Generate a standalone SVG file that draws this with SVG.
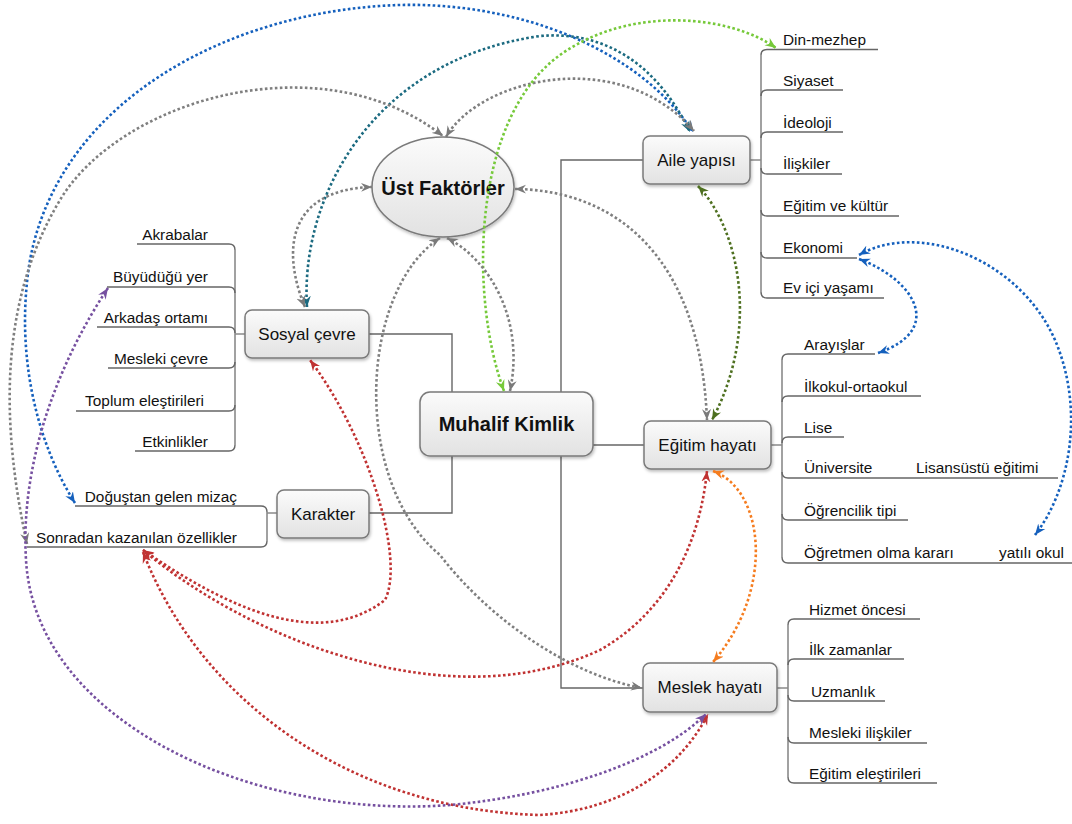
<svg xmlns="http://www.w3.org/2000/svg" width="1072" height="824" viewBox="0 0 1072 824">
<defs>
<linearGradient id="g" x1="0" y1="0" x2="0" y2="1"><stop offset="0" stop-color="#fbfbfb"/><stop offset="1" stop-color="#e2e2e2"/></linearGradient>
<filter id="sh" x="-10%" y="-10%" width="130%" height="140%"><feDropShadow dx="1" dy="2" stdDeviation="1.5" flood-color="#000" flood-opacity="0.25"/></filter>
<marker id="m-gray" viewBox="0 0 12 10" refX="11" refY="5" markerWidth="12" markerHeight="10" markerUnits="userSpaceOnUse" orient="auto-start-reverse"><path d="M0,0.5 L11,5 L0,9.5 L3.5,5 Z" fill="#7a7a7a"/></marker>
<marker id="m-blue" viewBox="0 0 12 10" refX="11" refY="5" markerWidth="12" markerHeight="10" markerUnits="userSpaceOnUse" orient="auto-start-reverse"><path d="M0,0.5 L11,5 L0,9.5 L3.5,5 Z" fill="#1560bd"/></marker>
<marker id="m-teal" viewBox="0 0 12 10" refX="11" refY="5" markerWidth="12" markerHeight="10" markerUnits="userSpaceOnUse" orient="auto-start-reverse"><path d="M0,0.5 L11,5 L0,9.5 L3.5,5 Z" fill="#1b6a80"/></marker>
<marker id="m-green" viewBox="0 0 12 10" refX="11" refY="5" markerWidth="12" markerHeight="10" markerUnits="userSpaceOnUse" orient="auto-start-reverse"><path d="M0,0.5 L11,5 L0,9.5 L3.5,5 Z" fill="#76c93a"/></marker>
<marker id="m-olive" viewBox="0 0 12 10" refX="11" refY="5" markerWidth="12" markerHeight="10" markerUnits="userSpaceOnUse" orient="auto-start-reverse"><path d="M0,0.5 L11,5 L0,9.5 L3.5,5 Z" fill="#4e7020"/></marker>
<marker id="m-red" viewBox="0 0 12 10" refX="11" refY="5" markerWidth="12" markerHeight="10" markerUnits="userSpaceOnUse" orient="auto-start-reverse"><path d="M0,0.5 L11,5 L0,9.5 L3.5,5 Z" fill="#c03232"/></marker>
<marker id="m-purple" viewBox="0 0 12 10" refX="11" refY="5" markerWidth="12" markerHeight="10" markerUnits="userSpaceOnUse" orient="auto-start-reverse"><path d="M0,0.5 L11,5 L0,9.5 L3.5,5 Z" fill="#7650a0"/></marker>
<marker id="m-orange" viewBox="0 0 12 10" refX="11" refY="5" markerWidth="12" markerHeight="10" markerUnits="userSpaceOnUse" orient="auto-start-reverse"><path d="M0,0.5 L11,5 L0,9.5 L3.5,5 Z" fill="#f57c1f"/></marker>
</defs>
<style>
text{font-family:"Liberation Sans",Arial,sans-serif;fill:#111}
.leaf{font-size:15.4px}
.lbl{font-size:17px;text-anchor:middle}
.big{font-size:20px;font-weight:bold;text-anchor:middle}
.end{text-anchor:end}
.box{fill:url(#g);stroke:#7a7a7a;stroke-width:1.5;filter:url(#sh)}
.tree{fill:none;stroke:#666;stroke-width:1.4}
.br{fill:none;stroke:#8a8a8a;stroke-width:1.6}
.rel{fill:none;stroke-width:2.6;stroke-dasharray:2.6 2.4}
.gray{stroke:#7f7f7f;marker-start:url(#m-gray);marker-end:url(#m-gray)}
.blue{stroke:#1560bd;marker-start:url(#m-blue);marker-end:url(#m-blue)}
.teal{stroke:#1b6a80;marker-start:url(#m-teal);marker-end:url(#m-teal)}
.green{stroke:#76c93a;marker-start:url(#m-green);marker-end:url(#m-green)}
.olive{stroke:#4e7020;marker-start:url(#m-olive);marker-end:url(#m-olive)}
.red{stroke:#c03232;marker-start:url(#m-red);marker-end:url(#m-red)}
.purple{stroke:#7650a0;marker-start:url(#m-purple);marker-end:url(#m-purple)}
.orange{stroke:#f57c1f;marker-start:url(#m-orange);marker-end:url(#m-orange)}
</style>
<rect width="1072" height="824" fill="#fff"/>

<g id="tree-lines">
<path class="tree" d="M369,334 H452 V513 H369"/>
<path class="tree" d="M643,160 H561 V688 H643"/>
<path class="tree" d="M593,445 H644"/>
<!-- Aile yapısı bracket -->
<path class="br" d="M750,160 H761 M761,55 V292"/>
<path class="tree" d="M761,55 Q761,49.5 767,49.5 H878 M761,96 Q761,90 767,90 H843 M761,138 Q761,132 767,132 H843 M761,168 Q761,174 767,174 H842 M761,210 Q761,216 767,216 H899 M761,252 Q761,258 767,258 H857 M761,292 Q761,298 767,298 H884"/>
<!-- Eğitim hayatı bracket -->
<path class="br" d="M771,445 H782 M782,360 V557"/>
<path class="tree" d="M782,360 Q782,354 788,354 H875 M782,402 Q782,396 788,396 H921 M782,443 Q782,437 788,437 H844 M782,472 Q782,478 788,478 H1058 M782,514 Q782,520 788,520 H908 M782,557 Q782,563 788,563 H1072"/>
<!-- Meslek hayatı bracket -->
<path class="br" d="M777,688 H788 M788,625 V777"/>
<path class="tree" d="M788,625 Q788,619 794,619 H920 M788,665 Q788,659 794,659 H904 M788,695 Q788,701 794,701 H885 M788,737 Q788,743 794,743 H927 M788,777 Q788,783 794,783 H937"/>
<!-- Sosyal çevre bracket -->
<path class="br" d="M245,334 H235 M235,250 V445"/>
<path class="tree" d="M235,250 Q235,244 229,244 H137 M235,293 Q235,287 229,287 H107 M235,333 Q235,327 229,327 H97 M235,362 Q235,368 229,368 H108 M235,405 Q235,411 229,411 H76 M235,445 Q235,451 229,451 H135"/>
<!-- Karakter bracket -->
<path class="br" d="M277,513 H267 M267,512 V541"/>
<path class="tree" d="M267,512 Q267,506 261,506 H75 M267,541 Q267,547 261,547 H27"/>
</g>

<g id="node-ust"><ellipse class="box" cx="443" cy="187" rx="71" ry="50"/><text class="big" x="443" y="195">Üst Faktörler</text></g>
<g id="node-muhalif"><rect class="box" x="420" y="392" width="173" height="64" rx="10"/><text class="big" x="506.5" y="431">Muhalif Kimlik</text></g>
<g id="node-aile"><rect class="box" x="643" y="136" width="107" height="48" rx="7"/><text class="lbl" x="696.5" y="166">Aile yapısı</text></g>
<g id="node-egitim"><rect class="box" x="644" y="421" width="127" height="48" rx="7"/><text class="lbl" x="707.5" y="451">Eğitim hayatı</text></g>
<g id="node-meslek"><rect class="box" x="643" y="663" width="134" height="49" rx="7"/><text class="lbl" x="710" y="693">Meslek hayatı</text></g>
<g id="node-sosyal"><rect class="box" x="245" y="310" width="124" height="48" rx="7"/><text class="lbl" x="307" y="340">Sosyal çevre</text></g>
<g id="node-karakter"><rect class="box" x="277" y="490" width="92" height="48" rx="7"/><text class="lbl" x="323" y="520">Karakter</text></g>

<g id="leaves-aile">
<text class="leaf" x="783" y="45">Din-mezhep</text>
<text class="leaf" x="783" y="86">Siyaset</text>
<text class="leaf" x="783" y="128">İdeoloji</text>
<text class="leaf" x="783" y="169">İlişkiler</text>
<text class="leaf" x="783" y="211">Eğitim ve kültür</text>
<text class="leaf" x="783" y="253">Ekonomi</text>
<text class="leaf" x="783" y="293">Ev içi yaşamı</text>
</g>
<g id="leaves-egitim">
<text class="leaf" x="804" y="350">Arayışlar</text>
<text class="leaf" x="804" y="392">İlkokul-ortaokul</text>
<text class="leaf" x="804" y="433">Lise</text>
<text class="leaf" x="804" y="473">Üniversite</text>
<text class="leaf" x="916" y="473">Lisansüstü eğitimi</text>
<text class="leaf" x="804" y="516">Öğrencilik tipi</text>
<text class="leaf" x="804" y="558">Öğretmen olma kararı</text>
<text class="leaf" x="999" y="558">yatılı okul</text>
</g>
<g id="leaves-meslek">
<text class="leaf" x="809" y="615">Hizmet öncesi</text>
<text class="leaf" x="809" y="655">İlk zamanlar</text>
<text class="leaf" x="811" y="697">Uzmanlık</text>
<text class="leaf" x="809" y="738">Mesleki ilişkiler</text>
<text class="leaf" x="809" y="779">Eğitim eleştirileri</text>
</g>
<g id="leaves-sosyal">
<text class="leaf end" x="208" y="240">Akrabalar</text>
<text class="leaf end" x="208" y="282">Büyüdüğü yer</text>
<text class="leaf end" x="208" y="323">Arkadaş ortamı</text>
<text class="leaf end" x="208" y="364">Mesleki çevre</text>
<text class="leaf end" x="204" y="406">Toplum eleştirileri</text>
<text class="leaf end" x="208" y="447">Etkinlikler</text>
</g>
<g id="leaves-karakter">
<text class="leaf end" x="237" y="502">Doğuştan gelen mizaç</text>
<text class="leaf end" x="237" y="543">Sonradan kazanılan özellikler</text>
</g>

<g id="relations">
<path class="rel blue" d="M75,503 C35,440 15,350 30,260 C60,100 230,10 400,5 C520,2 640,50 693,132"/>
<path class="rel teal" d="M307,307 C300,200 370,60 540,36 C610,30 660,70 690,132"/>
<path class="rel gray" d="M305,307 C285,260 280,190 372,187"/>
<path class="rel gray" d="M27,544 C0,420 0,300 60,200 C120,100 320,40 443,136"/>
<path class="rel gray" d="M446,137 C480,78 620,45 694,131"/>
<path class="rel gray" d="M515,189 C610,190 700,250 707,420"/>
<path class="rel olive" d="M698,186 C740,230 760,330 712,420"/>
<path class="rel green" d="M504,391 C470,300 470,120 560,55 C630,5 730,15 776,48"/>
<path class="rel gray" d="M447,238 C490,260 525,320 510,391"/>
<path class="rel gray" d="M440,238 C360,290 350,480 440,555 C490,620 570,675 642,688"/>
<path class="rel red" d="M143,550 C230,610 320,650 385,600 C405,560 370,440 310,360"/>
<path class="rel red" d="M143,550 C250,640 450,720 600,650 C670,610 700,540 707,471"/>
<path class="rel red" d="M143,552 C200,700 350,810 540,815 C620,810 680,770 708,714"/>
<path class="rel purple" d="M108,288 C60,360 20,460 26,560 C35,720 250,820 450,805 C560,795 660,760 706,714"/>
<path class="rel orange" d="M713,471 C765,490 775,590 713,662"/>
<path class="rel blue" d="M859,259 C915,280 945,330 878,353"/>
<path class="rel blue" d="M859,255 C920,220 1020,260 1055,340 C1085,410 1070,490 1035,535"/>
</g>
</svg>
